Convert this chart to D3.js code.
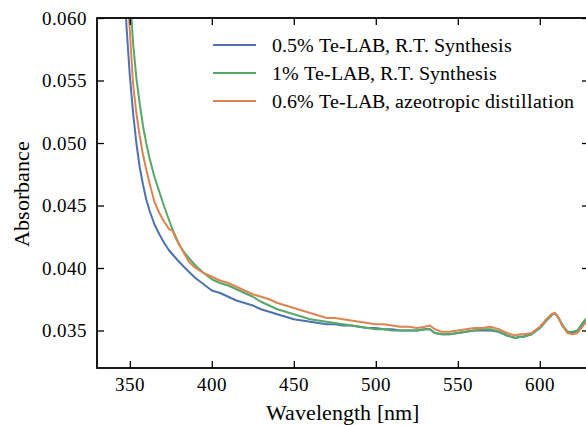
<!DOCTYPE html>
<html><head><meta charset="utf-8">
<style>
  @font-face { font-family: "ChartSerif"; src: local("Liberation Serif"), local("LiberationSerif"), local("Liberation Serif Regular"), local("LiberationSerif-Regular"); }
</style>
<script src="https://cdn.jsdelivr.net/npm/d3@7"></script></head>
<body style="margin:0">
<script>
var svgWidth = 586;
var svgHeight = 425;

var margin = { top: 18, right: -3, bottom: 57, left: 97 };
var width = svgWidth - margin.left - margin.right;
var height = svgHeight - margin.top - margin.bottom;

// wavelengths [nm], shared by the three spectra
var wavelengths = [
  345, 348, 350, 352, 354, 356, 358, 360, 362, 365,
  368, 371, 374, 376, 378, 380, 383, 386, 390, 395,
  400, 405, 410, 415, 420, 425, 430, 435, 440, 445,
  450, 455, 460, 465, 470, 475, 480, 485, 490, 495,
  500, 505, 510, 515, 520, 525, 530, 533, 536, 540,
  545, 550, 555, 560, 565, 570, 575, 580, 585, 588,
  590, 595, 600, 604, 607, 609, 611, 614, 617, 620,
  623, 626, 630
];

var blueAbs = [
  .0670, .0593, .0554, .0524, .0500, .0481, .0467, .0455, .0446, .0435,
  .0427, .0420, .0414, .0411, .0408, .0405, .0401, .0397, .0392, .0387,
  .0382, .0380, .0377, .0374, .0372, .0370, .0367, .0365, .0363, .0361,
  .0359, .0358, .0357, .0356, .0355, .0355, .0354, .0354, .0353, .0352,
  .0352, .0351, .0351, .0350, .0350, .0350, .0351, .0351, .0348, .0347,
  .0347, .0348, .0349, .0350, .0350, .0350, .0349, .0346, .0344, .0345,
  .0345, .0347, .0352, .0358, .0362, .0364, .0361, .0354, .0348, .0348,
  .0350, .0355, .0361
];

var greenAbs = [
  .0800, .0680, .0620, .0580, .0552, .0532, .0514, .0500, .0488, .0473,
  .0461, .0449, .0438, .0431, .0425, .0419, .0413, .0408, .0402, .0396,
  .0391, .0388, .0386, .0383, .0380, .0377, .0373, .0370, .0367, .0365,
  .0363, .0361, .0359, .0358, .0357, .0356, .0355, .0354, .0353, .0352,
  .0351, .0351, .0350, .0350, .0350, .0350, .0351, .0351, .0348, .0347,
  .0347, .0348, .0349, .0350, .0351, .0351, .0349, .0346, .0344, .0345,
  .0345, .0347, .0352, .0358, .0362, .0364, .0361, .0354, .0349, .0349,
  .0350, .0356, .0362
];

var orangeAbs = [
  .0750, .0635, .0590, .0547, .0524, .0506, .0491, .0479, .0468, .0453,
  .0444, .0437, .0431, .0430, .0424, .0419, .0412, .0405, .0400, .0396,
  .0393, .0390, .0388, .0385, .0382, .0379, .0377, .0375, .0372, .0370,
  .0368, .0366, .0364, .0362, .0360, .0360, .0359, .0358, .0357, .0356,
  .0355, .0355, .0354, .0353, .0353, .0352, .0353, .0354, .0351, .0349,
  .0349, .0350, .0351, .0352, .0352, .0353, .0351, .0348, .0346, .0347,
  .0347, .0348, .0353, .0359, .0363, .0364, .0361, .0353, .0348, .0347,
  .0348, .0353, .0360
];

var seriesNames = [
  "0.5% Te-LAB, R.T. Synthesis",
  "1% Te-LAB, R.T. Synthesis",
  "0.6% Te-LAB, azeotropic distillation"
];
var seriesColors = ["#4c72b0", "#55a868", "#dd8452"];
var seriesValues = [blueAbs, greenAbs, orangeAbs];

var xTicks = [350, 400, 450, 500, 550, 600];
var yTicks = [0.035, 0.040, 0.045, 0.050, 0.055, 0.060];

var fontName = "ChartSerif";

var svg = d3.select("body")
  .append("svg")
  .attr("width", svgWidth)
  .attr("height", svgHeight)
  .style("font-family", fontName);

var chartGroup = svg.append("g")
  .attr("transform", `translate(${margin.left}, ${margin.top})`);

var xLinearScale = d3.scaleLinear()
  .domain([330, 630])
  .range([0, width]);

var yLinearScale = d3.scaleLinear()
  .domain([0.032, 0.060])
  .range([height, 0]);

chartGroup.append("clipPath")
  .attr("id", "plot-clip")
  .append("rect")
  .attr("width", width)
  .attr("height", height);

// spectra
var line = d3.line()
  .x(d => xLinearScale(d[0]))
  .y(d => yLinearScale(d[1]));

seriesValues.forEach(function(vals, i) {
  var pts = wavelengths.map((w, j) => [w, vals[j]]);
  chartGroup.append("path")
    .datum(pts)
    .attr("clip-path", "url(#plot-clip)")
    .attr("fill", "none")
    .attr("stroke", seriesColors[i])
    .attr("stroke-width", 2)
    .attr("stroke-linejoin", "round")
    .attr("d", line);
});

// axes, ticks pointing inward on all four sides
var tickLen = 7;
function styleAxis(g) {
  g.attr("font-family", null).attr("font-size", null);
  g.select(".domain").remove();
  g.selectAll(".tick line").attr("stroke", "#000").attr("stroke-width", 1.3);
  g.selectAll(".tick text")
    .attr("fill", "#000")
    .style("font-family", fontName)
    .style("font-size", "19px");
}

chartGroup.append("g")
  .attr("transform", `translate(0, ${height})`)
  .call(d3.axisBottom(xLinearScale).tickValues(xTicks).tickSizeInner(-tickLen).tickSizeOuter(0).tickPadding(10).tickFormat(d3.format("d")))
  .call(styleAxis);

chartGroup.append("g")
  .call(d3.axisTop(xLinearScale).tickValues(xTicks).tickSizeInner(-tickLen).tickSizeOuter(0).tickFormat(""))
  .call(styleAxis);

chartGroup.append("g")
  .call(d3.axisLeft(yLinearScale).tickValues(yTicks).tickSizeInner(-tickLen).tickSizeOuter(0).tickPadding(10).tickFormat(d3.format(".3f")))
  .call(styleAxis);

chartGroup.append("g")
  .attr("transform", `translate(${width}, 0)`)
  .call(d3.axisRight(yLinearScale).tickValues(yTicks).tickSizeInner(-tickLen).tickSizeOuter(0).tickFormat(""))
  .call(styleAxis);

// frame
chartGroup.append("rect")
  .attr("width", width)
  .attr("height", height)
  .attr("fill", "none")
  .attr("stroke", "#000")
  .attr("stroke-width", 1.8);

// legend
var legend = chartGroup.append("g")
  .attr("transform", "translate(116, 27)");

seriesNames.forEach(function(name, i) {
  var row = legend.append("g").attr("transform", `translate(0, ${i * 28})`);
  row.append("line")
    .attr("x1", 0).attr("x2", 43)
    .attr("stroke", seriesColors[i])
    .attr("stroke-width", 2);
  row.append("text")
    .attr("x", 59)
    .attr("dy", "0.34em")
    .style("font-family", fontName)
    .style("font-size", "20px")
    .text(name);
});

// axis labels
chartGroup.append("text")
  .attr("transform", "rotate(-90)")
  .attr("x", 0 - 176)
  .attr("y", 0 - margin.left + 29)
  .attr("text-anchor", "middle")
  .style("font-family", fontName)
  .style("font-size", "22px")
  .text("Absorbance");

chartGroup.append("text")
  .attr("x", 245)
  .attr("y", height + 52)
  .attr("text-anchor", "middle")
  .style("font-family", fontName)
  .style("font-size", "22px")
  .text("Wavelength [nm]");
</script>
</body>
</html>
